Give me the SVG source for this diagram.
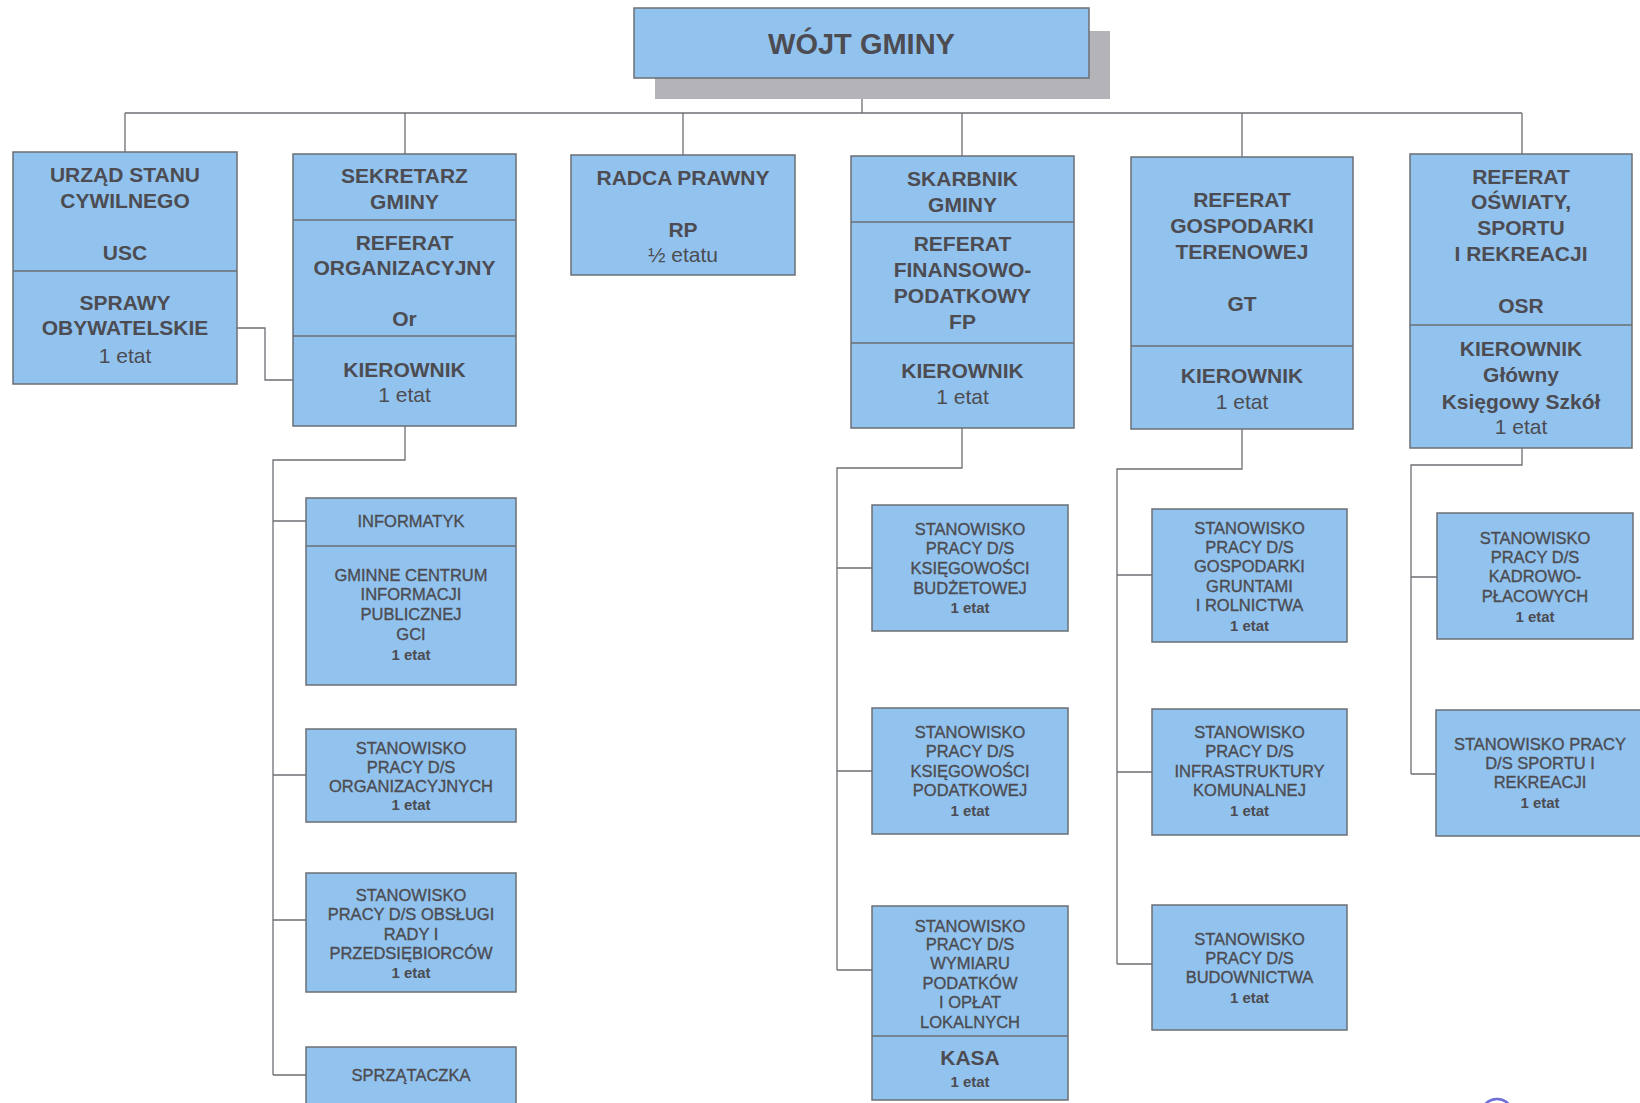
<svg xmlns="http://www.w3.org/2000/svg" width="1640" height="1103" viewBox="0 0 1640 1103">
<style>
.bg{fill:#ffffff}
.box{fill:#92c3ee;stroke:#6b6f75;stroke-width:1.5}
.div{stroke:#6b6f75;stroke-width:1.5;fill:none}
.shadow{fill:#b3b3b8}
.ln{stroke:#6e6e74;stroke-width:1.3;fill:none}
text{font-family:"Liberation Sans",Arial,sans-serif;fill:#4c4c52;text-anchor:middle}
.h{font-size:21px;font-weight:bold}
.r{font-size:21px}
.t{font-size:29px;font-weight:bold}
.s{font-size:16.5px;stroke:#4c4c52;stroke-width:0.35}
.sb{font-size:15px;font-weight:bold}
.k{font-size:21px;font-weight:bold}
.stamp{fill:none;stroke:#6d6fd6;stroke-width:2.5}
</style>
<rect class="bg" x="0" y="0" width="1640" height="1103"/>

<g id="connectors">
  <path class="ln" d="M862 78 V113 M125 113 H1522 M125 113 V152 M405 113 V154 M683 113 V155 M962 113 V156 M1242 113 V157 M1522 113 V154"/>
  <path class="ln" d="M237 328 H265 V380 H293"/>
  <path class="ln" d="M405 426 V460 H273 V1075 M273 521 H306 M273 775 H306 M273 920 H306 M273 1075 H306"/>
  <path class="ln" d="M962 428 V468 H837 V970 M837 568 H872 M837 771 H872 M837 970 H872"/>
  <path class="ln" d="M1242 429 V469 H1117 V964 M1117 575 H1152 M1117 772 H1152 M1117 964 H1152"/>
  <path class="ln" d="M1522 448 V465 H1411 V774 M1411 577 H1437 M1411 774 H1436"/>
</g>

<g id="wojt">
  <rect class="shadow" x="655" y="31" width="455" height="68"/>
  <rect class="box" x="634" y="8" width="455" height="70"/>
  <text class="t" x="861.5" y="54">WÓJT GMINY</text>
</g>

<g id="usc">
  <rect class="box" x="13" y="152" width="224" height="232"/>
  <line class="div" x1="13" y1="271" x2="237" y2="271"/>
  <text class="h" x="125" y="181.5">URZĄD STANU</text>
  <text class="h" x="125" y="207.5">CYWILNEGO</text>
  <text class="h" x="125" y="259.5">USC</text>
  <text class="h" x="125" y="309.5">SPRAWY</text>
  <text class="h" x="125" y="334.5">OBYWATELSKIE</text>
  <text class="r" x="125" y="362.5">1 etat</text>
</g>

<g id="sekretarz">
  <rect class="box" x="293" y="154" width="223" height="272"/>
  <line class="div" x1="293" y1="220" x2="516" y2="220"/>
  <line class="div" x1="293" y1="336" x2="516" y2="336"/>
  <text class="h" x="404.5" y="182.5">SEKRETARZ</text>
  <text class="h" x="404.5" y="208.5">GMINY</text>
  <text class="h" x="404.5" y="249.5">REFERAT</text>
  <text class="h" x="404.5" y="274.5">ORGANIZACYJNY</text>
  <text class="h" x="404.5" y="325.5">Or</text>
  <text class="h" x="404.5" y="376.5">KIEROWNIK</text>
  <text class="r" x="404.5" y="401.5">1 etat</text>
</g>

<g id="radca">
  <rect class="box" x="571" y="155" width="224" height="120"/>
  <text class="h" x="683" y="184.5">RADCA PRAWNY</text>
  <text class="h" x="683" y="236.5">RP</text>
  <text class="r" x="683" y="261.5">½ etatu</text>
</g>

<g id="skarbnik">
  <rect class="box" x="851" y="156" width="223" height="272"/>
  <line class="div" x1="851" y1="222" x2="1074" y2="222"/>
  <line class="div" x1="851" y1="343" x2="1074" y2="343"/>
  <text class="h" x="962.5" y="185.5">SKARBNIK</text>
  <text class="h" x="962.5" y="211.5">GMINY</text>
  <text class="h" x="962.5" y="250.5">REFERAT</text>
  <text class="h" x="962.5" y="276.5">FINANSOWO-</text>
  <text class="h" x="962.5" y="302.5">PODATKOWY</text>
  <text class="h" x="962.5" y="328.5">FP</text>
  <text class="h" x="962.5" y="377.5">KIEROWNIK</text>
  <text class="r" x="962.5" y="403.5">1 etat</text>
</g>

<g id="gt">
  <rect class="box" x="1131" y="157" width="222" height="272"/>
  <line class="div" x1="1131" y1="346" x2="1353" y2="346"/>
  <text class="h" x="1242" y="206.5">REFERAT</text>
  <text class="h" x="1242" y="232.5">GOSPODARKI</text>
  <text class="h" x="1242" y="258.5">TERENOWEJ</text>
  <text class="h" x="1242" y="310.5">GT</text>
  <text class="h" x="1242" y="382.5">KIEROWNIK</text>
  <text class="r" x="1242" y="408.5">1 etat</text>
</g>

<g id="osr">
  <rect class="box" x="1410" y="154" width="222" height="294"/>
  <line class="div" x1="1410" y1="325" x2="1632" y2="325"/>
  <text class="h" x="1521" y="183.5">REFERAT</text>
  <text class="h" x="1521" y="208.5">OŚWIATY,</text>
  <text class="h" x="1521" y="234.5">SPORTU</text>
  <text class="h" x="1521" y="260.5">I REKREACJI</text>
  <text class="h" x="1521" y="312.5">OSR</text>
  <text class="h" x="1521" y="355.5">KIEROWNIK</text>
  <text class="h" x="1521" y="381.5">Główny</text>
  <text class="h" x="1521" y="408.5">Księgowy Szkół</text>
  <text class="r" x="1521" y="433.5">1 etat</text>
</g>

<g id="informatyk">
  <rect class="box" x="306" y="498" width="210" height="187"/>
  <line class="div" x1="306" y1="546" x2="516" y2="546"/>
  <text class="s" x="411" y="527">INFORMATYK</text>
  <text class="s" x="411" y="581">GMINNE CENTRUM</text>
  <text class="s" x="411" y="600">INFORMACJI</text>
  <text class="s" x="411" y="620">PUBLICZNEJ</text>
  <text class="s" x="411" y="640">GCI</text>
  <text class="sb" x="411" y="660">1 etat</text>
</g>

<g id="organizacyjne">
  <rect class="box" x="306" y="729" width="210" height="93"/>
  <text class="s" x="411" y="754">STANOWISKO</text>
  <text class="s" x="411" y="773">PRACY D/S</text>
  <text class="s" x="411" y="792">ORGANIZACYJNYCH</text>
  <text class="sb" x="411" y="810">1 etat</text>
</g>

<g id="obslugi">
  <rect class="box" x="306" y="873" width="210" height="119"/>
  <text class="s" x="411" y="901">STANOWISKO</text>
  <text class="s" x="411" y="920">PRACY D/S OBSŁUGI</text>
  <text class="s" x="411" y="940">RADY I</text>
  <text class="s" x="411" y="959">PRZEDSIĘBIORCÓW</text>
  <text class="sb" x="411" y="978">1 etat</text>
</g>

<g id="sprzataczka">
  <rect class="box" x="306" y="1047" width="210" height="70"/>
  <text class="s" x="411" y="1081">SPRZĄTACZKA</text>
</g>

<g id="budzetowa">
  <rect class="box" x="872" y="505" width="196" height="126"/>
  <text class="s" x="970" y="535">STANOWISKO</text>
  <text class="s" x="970" y="554">PRACY D/S</text>
  <text class="s" x="970" y="574">KSIĘGOWOŚCI</text>
  <text class="s" x="970" y="594">BUDŻETOWEJ</text>
  <text class="sb" x="970" y="613">1 etat</text>
</g>

<g id="podatkowa">
  <rect class="box" x="872" y="708" width="196" height="126"/>
  <text class="s" x="970" y="738">STANOWISKO</text>
  <text class="s" x="970" y="757">PRACY D/S</text>
  <text class="s" x="970" y="777">KSIĘGOWOŚCI</text>
  <text class="s" x="970" y="796">PODATKOWEJ</text>
  <text class="sb" x="970" y="816">1 etat</text>
</g>

<g id="wymiar">
  <rect class="box" x="872" y="906" width="196" height="194"/>
  <line class="div" x1="872" y1="1036" x2="1068" y2="1036"/>
  <text class="s" x="970" y="932">STANOWISKO</text>
  <text class="s" x="970" y="950">PRACY D/S</text>
  <text class="s" x="970" y="969">WYMIARU</text>
  <text class="s" x="970" y="989">PODATKÓW</text>
  <text class="s" x="970" y="1008">I OPŁAT</text>
  <text class="s" x="970" y="1028">LOKALNYCH</text>
  <text class="k" x="970" y="1065">KASA</text>
  <text class="sb" x="970" y="1087">1 etat</text>
</g>

<g id="grunty">
  <rect class="box" x="1152" y="509" width="195" height="133"/>
  <text class="s" x="1249.5" y="534">STANOWISKO</text>
  <text class="s" x="1249.5" y="553">PRACY D/S</text>
  <text class="s" x="1249.5" y="572">GOSPODARKI</text>
  <text class="s" x="1249.5" y="592">GRUNTAMI</text>
  <text class="s" x="1249.5" y="611">I ROLNICTWA</text>
  <text class="sb" x="1249.5" y="631">1 etat</text>
</g>

<g id="infrastruktura">
  <rect class="box" x="1152" y="709" width="195" height="126"/>
  <text class="s" x="1249.5" y="738">STANOWISKO</text>
  <text class="s" x="1249.5" y="757">PRACY D/S</text>
  <text class="s" x="1249.5" y="777">INFRASTRUKTURY</text>
  <text class="s" x="1249.5" y="796">KOMUNALNEJ</text>
  <text class="sb" x="1249.5" y="816">1 etat</text>
</g>

<g id="budownictwo">
  <rect class="box" x="1152" y="905" width="195" height="125"/>
  <text class="s" x="1249.5" y="945">STANOWISKO</text>
  <text class="s" x="1249.5" y="964">PRACY D/S</text>
  <text class="s" x="1249.5" y="983">BUDOWNICTWA</text>
  <text class="sb" x="1249.5" y="1003">1 etat</text>
</g>

<g id="kadrowo">
  <rect class="box" x="1437" y="513" width="196" height="126"/>
  <text class="s" x="1535" y="544">STANOWISKO</text>
  <text class="s" x="1535" y="563">PRACY D/S</text>
  <text class="s" x="1535" y="582">KADROWO-</text>
  <text class="s" x="1535" y="602">PŁACOWYCH</text>
  <text class="sb" x="1535" y="622">1 etat</text>
</g>

<g id="sport">
  <rect class="box" x="1436" y="710" width="206" height="126"/>
  <text class="s" x="1540" y="750">STANOWISKO PRACY</text>
  <text class="s" x="1540" y="769">D/S SPORTU I</text>
  <text class="s" x="1540" y="788">REKREACJI</text>
  <text class="sb" x="1540" y="808">1 etat</text>
</g>

<circle class="stamp" cx="1497" cy="1115" r="16"/>
</svg>
